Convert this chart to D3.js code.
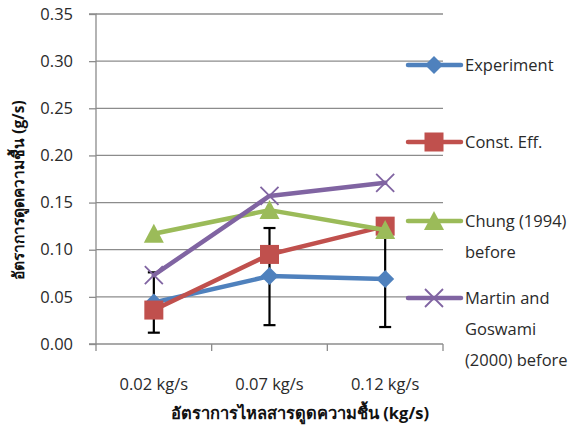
<!DOCTYPE html>
<html>
<head>
<meta charset="utf-8">
<script src="https://cdn.jsdelivr.net/npm/d3@7"></script>
<style>
  html, body { margin: 0; padding: 0; background: #fff; }
  svg { display: block; font-family: "Open Sans", "Noto Sans", "DejaVu Sans", sans-serif; }
</style>
</head>
<body>
<svg id="chart" width="571" height="427"></svg>
<script>
// Dehumidifier flow rates (x categories)
const categories = ["0.02 kg/s", "0.07 kg/s", "0.12 kg/s"];

// Moisture absorption rate (g/s) per series
const experiment = [0.044, 0.072, 0.069];
const constEff   = [0.036, 0.095, 0.125];
const chung      = [0.117, 0.142, 0.121];
const martin     = [0.073, 0.157, 0.171];

// Error bar bounds for the experimental series
const errLow  = [0.012, 0.020, 0.018];
const errHigh = [0.076, 0.123, 0.120];

const yTicks = [0, 0.05, 0.10, 0.15, 0.20, 0.25, 0.30, 0.35];

const seriesNames = ["Experiment", "Const. Eff.", "Chung (1994) before", "Martin and Goswami (2000) before"];
const legendLines = [["Experiment"], ["Const. Eff."], ["Chung (1994)", "before"], ["Martin and", "Goswami", "(2000) before"]];

const series = [
  { name: seriesNames[0], values: experiment, color: "#4F81BD", marker: "diamond" },
  { name: seriesNames[1], values: constEff,   color: "#C0504D", marker: "square" },
  { name: seriesNames[2], values: chung,      color: "#9BBB59", marker: "triangle" },
  { name: seriesNames[3], values: martin,     color: "#8064A2", marker: "cross" }
];

const svg = d3.select("#chart");
const plot = { left: 96, right: 443, top: 14, bottom: 344 };

const x = d3.scaleBand().domain(categories).range([plot.left, plot.right]).paddingInner(0).paddingOuter(0);
const y = d3.scaleLinear().domain([0, 0.35]).range([plot.bottom, plot.top]);
const cx = c => x(c) + x.bandwidth() / 2;

const gridColor = "#8c8c8c";
const textColor = "#2a2a2a";

// Horizontal gridlines
svg.append("g").selectAll("line").data(yTicks.slice(1)).join("line")
  .attr("x1", plot.left).attr("x2", plot.right)
  .attr("y1", d => y(d)).attr("y2", d => y(d))
  .attr("stroke", gridColor).attr("stroke-width", 1.3);

// Y axis
const yAxis = d3.axisLeft(y).tickValues(yTicks).tickFormat(d3.format(".2f")).tickSize(7).tickPadding(16);
const gy = svg.append("g").attr("transform", `translate(${plot.left},0)`).call(yAxis);
gy.select(".domain").attr("stroke", gridColor).attr("stroke-width", 1.3).attr("d", `M-7,${plot.top}H0V${plot.bottom}H-7`);
gy.selectAll(".tick line").attr("stroke", gridColor).attr("stroke-width", 1.3);
gy.selectAll(".tick text").attr("fill", textColor).style("font-size", "16.5px").style("font-family", "'Open Sans', sans-serif");

// X axis: ticks at band boundaries
const xBounds = categories.map(c => x(c)).concat([plot.right]);
const gx = svg.append("g");
gx.append("line").attr("x1", plot.left).attr("x2", plot.right).attr("y1", plot.bottom).attr("y2", plot.bottom)
  .attr("stroke", gridColor).attr("stroke-width", 1.3);
gx.selectAll("line.tk").data(xBounds).join("line").attr("class", "tk")
  .attr("x1", d => d).attr("x2", d => d).attr("y1", plot.bottom).attr("y2", plot.bottom + 7)
  .attr("stroke", gridColor).attr("stroke-width", 1.3);
gx.selectAll("text").data(categories).join("text")
  .attr("x", d => cx(d)).attr("y", 390).attr("text-anchor", "middle")
  .attr("fill", textColor).style("font-size", "16.5px").text(d => d);

// Axis titles
svg.append("text").attr("x", 300).attr("y", 419).attr("text-anchor", "middle")
  .attr("fill", "#111").style("font-size", "16.5px").style("font-weight", "bold")
  .text("อัตราการไหลสารดูดความชื้น (kg/s)");
svg.append("text").attr("transform", "translate(24,190) rotate(-90)").attr("text-anchor", "middle")
  .attr("fill", "#111").style("font-size", "15.5px").style("font-weight", "bold")
  .text("อัตราการดูดความชื้น (g/s)");

// Marker drawing
function drawMarker(g, type, color, px, py) {
  if (type === "diamond") {
    g.append("path").attr("d", `M${px},${py - 9}L${px + 9},${py}L${px},${py + 9}L${px - 9},${py}Z`).attr("fill", color);
  } else if (type === "square") {
    g.append("rect").attr("x", px - 9.5).attr("y", py - 9.5).attr("width", 19).attr("height", 19).attr("fill", color);
  } else if (type === "triangle") {
    g.append("path").attr("d", `M${px},${py - 10}L${px + 10},${py + 9}L${px - 10},${py + 9}Z`).attr("fill", color);
  } else if (type === "cross") {
    g.append("path").attr("d", `M${px - 9},${py - 9}L${px + 9},${py + 9}M${px - 9},${py + 9}L${px + 9},${py - 9}`)
      .attr("stroke", color).attr("stroke-width", 1.8).attr("fill", "none");
  }
}

const line = d3.line().x(d => cx(d.c)).y(d => y(d.v));

// Error bars on the experimental series
const eb = svg.append("g").attr("stroke", "#000").attr("stroke-width", 2.2);
categories.forEach((c, i) => {
  eb.append("line").attr("x1", cx(c)).attr("x2", cx(c)).attr("y1", y(errLow[i])).attr("y2", y(errHigh[i]));
  eb.append("line").attr("x1", cx(c) - 6).attr("x2", cx(c) + 6).attr("y1", y(errLow[i])).attr("y2", y(errLow[i]));
  eb.append("line").attr("x1", cx(c) - 6).attr("x2", cx(c) + 6).attr("y1", y(errHigh[i])).attr("y2", y(errHigh[i]));
});

// Series lines and markers
series.forEach(s => {
  const g = svg.append("g");
  const pts = categories.map((c, i) => ({ c, v: s.values[i] }));
  g.append("path").datum(pts).attr("d", line).attr("fill", "none")
    .attr("stroke", s.color).attr("stroke-width", 4.5).attr("stroke-linejoin", "round").attr("stroke-linecap", "round");
  pts.forEach(p => drawMarker(g, s.marker, s.color, cx(p.c), y(p.v)));
});

// Legend
const legendY = [65, 142, 221, 298];
const lg = svg.append("g");
series.forEach((s, i) => {
  const ly = legendY[i];
  lg.append("line").attr("x1", 408).attr("x2", 461).attr("y1", ly).attr("y2", ly)
    .attr("stroke", s.color).attr("stroke-width", 4.5).attr("stroke-linecap", "round");
  drawMarker(lg, s.marker, s.color, 434, ly);
  legendLines[i].forEach((t, j) => {
    lg.append("text").attr("x", 465).attr("y", ly + 6 + j * 31)
      .attr("fill", textColor).style("font-size", "16.5px").text(t);
  });
});
</script>
</body>
</html>
